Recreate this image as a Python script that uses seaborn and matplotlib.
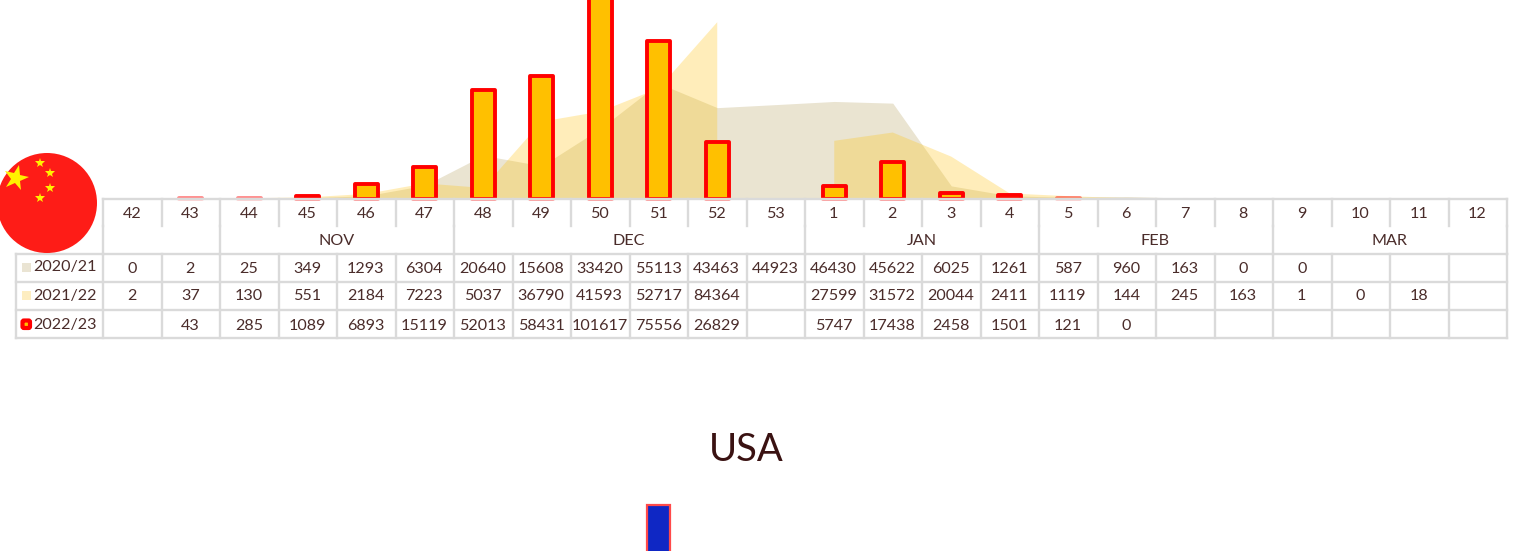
import matplotlib
matplotlib.use("Agg")
import matplotlib.pyplot as plt
from matplotlib.markers import MarkerStyle
from matplotlib.patches import Circle, Rectangle, FancyBboxPatch
from matplotlib.transforms import Affine2D
import numpy as np
import pandas as pd
import seaborn as sns

WIDTH, HEIGHT = 1513, 551

weeks = [42, 43, 44, 45, 46, 47, 48, 49, 50, 51, 52, 53,
         1, 2, 3, 4, 5, 6, 7, 8, 9, 10, 11, 12]
months = ["", "NOV", "DEC", "JAN", "FEB", "MAR"]
month_spans = [2, 4, 6, 4, 4, 4]
seasons = ["2020/21", "2021/22", "2022/23"]

cases_2020 = [0, 2, 25, 349, 1293, 6304, 20640, 15608, 33420, 55113, 43463, 44923,
              46430, 45622, 6025, 1261, 587, 960, 163, 0, 0, None, None, None]
cases_2021 = [2, 37, 130, 551, 2184, 7223, 5037, 36790, 41593, 52717, 84364, None,
              27599, 31572, 20044, 2411, 1119, 144, 245, 163, 1, 0, 18, None]
cases_2022 = [None, 43, 285, 1089, 6893, 15119, 52013, 58431, 101617, 75556, 26829, None,
              5747, 17438, 2458, 1501, 121, 0, None, None, None, None, None, None]
cases_usa = [None] * 9 + [64600] + [None] * 14

INK = "#4a2c2a"
GRID = "#dadada"
PX_PER_CASE = 0.00209
TABLE_LEFT, COL_W = 103, 58.5
BASE_Y = 198.5


def px_axes(fig, left, top, right, bottom):
    """ Axes placed by pixel edges, y counted from the top of the picture. """
    return fig.add_axes([left / WIDTH, 1 - bottom / HEIGHT,
                         (right - left) / WIDTH, (bottom - top) / HEIGHT])


def draw_bars(ax, values, fill, edge, lw):
    data = pd.DataFrame({"week": [str(w) for w in weeks],
                         "cases": [np.nan if v is None else v for v in values]})
    sns.barplot(data=data, x="week", y="cases", ax=ax, color=fill, saturation=1,
                width=0.4, edgecolor=edge, linewidth=lw, order=data["week"])
    ax.set_xlim(-0.5, 23.5)
    ax.axis("off")


def draw_chart(fig):
    ax = px_axes(fig, TABLE_LEFT, -10, TABLE_LEFT + 24 * COL_W, BASE_Y)
    ax.set_ylim(0, (BASE_Y + 10) / PX_PER_CASE)
    x = np.arange(len(weeks))
    for values, color, alpha in [(cases_2020, "#cdbf92", 0.42), (cases_2021, "#ffc000", 0.27)]:
        y = np.array([np.nan if v is None else v for v in values], dtype=float)
        ax.fill_between(x, y, 0, color=color, alpha=alpha, linewidth=0, zorder=1)
    draw_bars(ax, cases_2022, "#ffc000", "#ff0000", 2.8)
    ax.set_ylim(0, (BASE_Y + 10) / PX_PER_CASE)
    for patch in ax.patches:
        patch.set_zorder(3)
        patch.set_clip_on(False)
        patch.set_joinstyle("round")
        height = patch.get_height()
        if height == 0:
            patch.set_visible(False)
        elif height < 300:
            # the tiniest bars only show as a pale line
            patch.set_edgecolor((1, 0, 0, 0.45))


def draw_usa(fig):
    ax = px_axes(fig, TABLE_LEFT, 420, TABLE_LEFT + 24 * COL_W, 640)
    draw_bars(ax, cases_usa, "#0f27c4", "#ff4a4a", 1.6)
    ax.set_ylim(0, 220 / PX_PER_CASE)


def draw_table(ov):
    col_x = [TABLE_LEFT + i * COL_W for i in range(25)]
    # fade on the bar feet just under the top rule
    ov.add_patch(Rectangle((TABLE_LEFT, 199), 24 * COL_W, 4, color="white", alpha=0.6, lw=0, zorder=4))
    ov.add_patch(Rectangle((TABLE_LEFT, 203), 24 * COL_W, 135, color="white", lw=0, zorder=4))

    kw = dict(color=GRID, lw=1.7, zorder=5, solid_capstyle="projecting")
    ov.plot([TABLE_LEFT, col_x[-1]], [199, 199], **kw)
    for xc in col_x:
        ov.plot([xc, xc], [199, 226], **kw)
    pos = 0
    for span in month_spans:
        xc = col_x[pos]
        ov.plot([xc, xc], [226, 254], **kw)
        pos += span
    ov.plot([col_x[-1], col_x[-1]], [226, 254], **kw)
    for y in [254, 282, 310, 338]:
        ov.plot([16, col_x[-1]], [y, y], **kw)
    for xc in [16] + col_x:
        ov.plot([xc, xc], [254, 338], **kw)

    tk = dict(ha="center", va="center", color=INK, fontsize=11.6, zorder=6)
    for i, wk in enumerate(weeks):
        ov.text(col_x[i] + COL_W / 2 - 0.5, 213.5, str(wk), **tk)
    pos = 0
    for name, span in zip(months, month_spans):
        ov.text(col_x[pos] + span * COL_W / 2 - 0.5, 241, name, **tk)
        pos += span
    rows = [cases_2020, cases_2021, cases_2022]
    for y, label_y, season, row in zip([268.7, 296.5, 325.7], [267, 296, 324.7], seasons, rows):
        ov.text(65, label_y, season, **tk)
        for i, v in enumerate(row):
            if v is not None:
                ov.text(col_x[i] + COL_W / 2 - 0.5, y, str(v), **tk)

    ov.add_patch(Rectangle((22, 263), 9, 9, color="#eae4d3", lw=0, zorder=6))
    ov.add_patch(Rectangle((22, 291), 9, 9, color="#fdedc1", lw=0, zorder=6))
    ov.add_patch(FancyBboxPatch((22.5, 320.5), 7.5, 7.5, boxstyle="round,pad=0,rounding_size=1.5",
                                fc="#ffc000", ec="#ff0000", lw=3, zorder=6))


def draw_flag(ov):
    ov.add_patch(Circle((47, 203), 50, color="#fe1c17", lw=0, zorder=7))
    big_star = MarkerStyle("*", transform=Affine2D().rotate_deg(-12))
    ov.plot([16], [178], marker=big_star, ms=19, color="#fff200", mew=0, zorder=8)
    for sx, sy in [(40, 163), (50, 173), (50, 188), (40, 198)]:
        ov.plot([sx], [sy], marker="*", ms=7.5, color="#fff200", mew=0, zorder=8)


def main():
    sns.set_theme(style="white")
    plt.rcParams["font.family"] = ["Lato", "DejaVu Sans"]

    fig = plt.figure(figsize=(WIDTH / 100, HEIGHT / 100), dpi=100, facecolor="white")
    draw_chart(fig)
    draw_usa(fig)

    ov = fig.add_axes([0, 0, 1, 1], facecolor="none")
    ov.set_xlim(0, WIDTH)
    ov.set_ylim(HEIGHT, 0)
    ov.axis("off")
    draw_table(ov)
    draw_flag(ov)
    ov.text(746.5, 450, "USA", ha="center", va="center", color="#3a1212", fontsize=27.5)

    fig.savefig("out.png", dpi=100)


if __name__ == '__main__':
    main()
